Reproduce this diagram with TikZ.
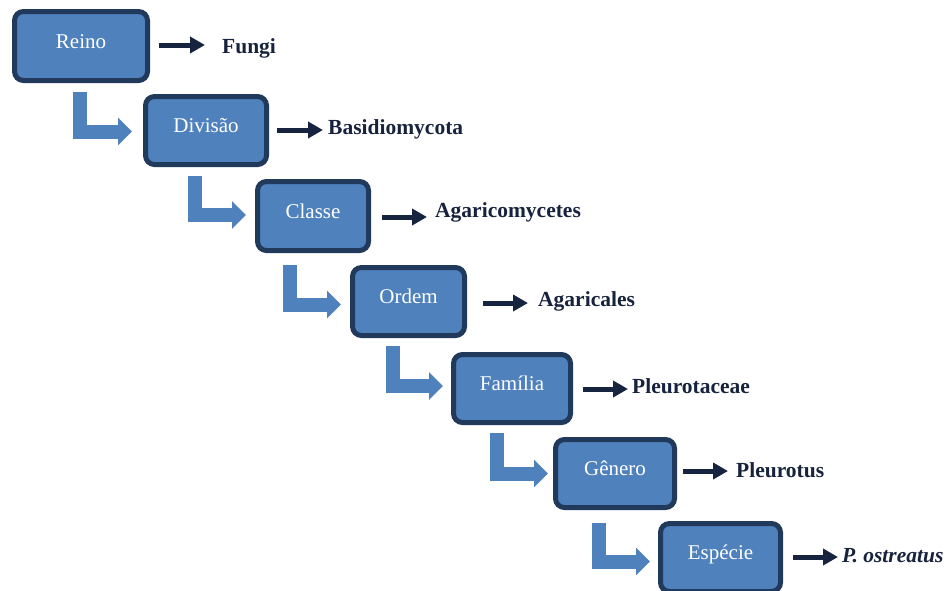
\documentclass[tikz,border=0pt]{standalone}
\usepackage{fontspec}
\setmainfont{Liberation Serif}
\usetikzlibrary{arrows.meta}
\definecolor{boxfill}{HTML}{4F81BD}
\definecolor{boxborder}{HTML}{213A5C}
\definecolor{bentcol}{HTML}{4F81BD}
\definecolor{arrcol}{HTML}{17243F}
\definecolor{labcol}{HTML}{17233C}
\tikzset{
  box/.style={draw=boxborder, line width=5pt, fill=boxfill, rounded corners=9pt,
    text=white, font=\fontsize{21}{25}\selectfont, text height=14pt, text depth=10pt,
    inner sep=0pt, outer sep=0pt},
  lab/.style={anchor=base west, inner sep=0pt, text=labcol, font=\fontsize{21.5}{25}\selectfont\bfseries},
  blk/.style={draw=arrcol, line width=5pt, -{Triangle[length=15pt,width=16pt]}},
  bent/.style={draw=bentcol, line width=14pt, line join=miter, -{Triangle[length=14pt,width=27pt]}},
}
\begin{document}
\begin{tikzpicture}[x=1pt,y=-1pt]
\useasboundingbox (0,0) rectangle (950,590);
\clip (0,0) rectangle (950,590);
\fill[white] (0,0) rectangle (950,590);
% boxes
\node[box, minimum width=133pt, minimum height=69pt] (b1) at (81,46) {Reino};
\node[box, minimum width=121pt, minimum height=68pt] (b2) at (206,130.5) {Divisão};
\node[box, minimum width=111pt, minimum height=69pt] (b3) at (313,216) {Classe};
\node[box, minimum width=112pt, minimum height=68pt] (b4) at (408.5,301.5) {Ordem};
\node[box, minimum width=117pt, minimum height=68pt] (b5) at (512,388.5) {Família};
\node[box, minimum width=119pt, minimum height=68pt] (b6) at (615,473.5) {Gênero};
\node[box, minimum width=120pt, minimum height=68pt] (b7) at (720.5,557.5) {Espécie};
% labels
\node[lab] (l1) at (222,53) {Fungi};
\node[lab] (l2) at (328,134) {Basidiomycota};
\node[lab] (l3) at (435,217) {Agaricomycetes};
\node[lab] (l4) at (538,306) {Agaricales};
\node[lab] (l5) at (632,393) {Pleurotaceae};
\node[lab] (l6) at (736,477) {Pleurotus};
\node[lab] (l7) at (842,562) {\itshape P. ostreatus};
% black arrow ends
\coordinate (s1) at (159,45); \coordinate (e1) at (205,45);
\coordinate (s2) at (277,130); \coordinate (e2) at (323,130);
\coordinate (s3) at (382,217); \coordinate (e3) at (427,217);
\coordinate (s4) at (483,303); \coordinate (e4) at (528,303);
\coordinate (s5) at (583,389); \coordinate (e5) at (628,389);
\coordinate (s6) at (683,471); \coordinate (e6) at (728,471);
\coordinate (s7) at (793,557); \coordinate (e7) at (838,557);
\foreach \i in {1,...,7} { \draw[blk] (s\i) -- (e\i); }
% bent arrows
\coordinate (t1) at (80,92);    \coordinate (h1) at (132,131.5);
\coordinate (t2) at (195,176);  \coordinate (h2) at (246,215);
\coordinate (t3) at (290,265);  \coordinate (h3) at (341,304.5);
\coordinate (t4) at (392.5,346);\coordinate (h4) at (443,386);
\coordinate (t5) at (497,433);  \coordinate (h5) at (548,473.5);
\coordinate (t6) at (599,523);  \coordinate (h6) at (650,561.5);
\foreach \i in {1,...,6} { \draw[bent] (t\i) |- (h\i); }
\end{tikzpicture}
\end{document}
